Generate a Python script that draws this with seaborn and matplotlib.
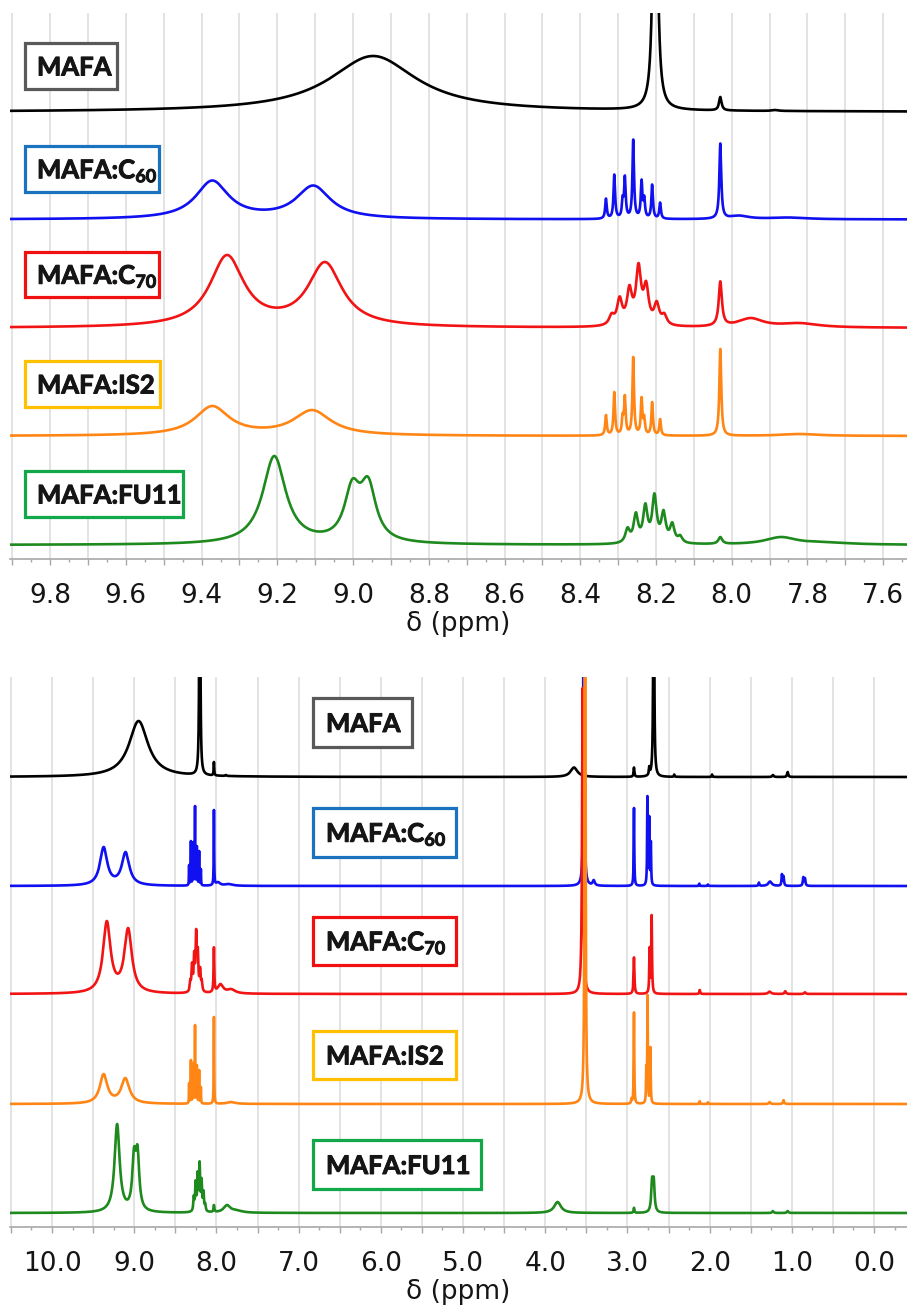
import numpy as np
import matplotlib
matplotlib.use("Agg")
import matplotlib.pyplot as plt
import matplotlib.patheffects as pe
from matplotlib.patches import Rectangle
from matplotlib.ticker import MultipleLocator, FuncFormatter
import seaborn as sns

# ---------------------------------------------------------------------------
# 1H NMR line lists for each sample:
#   shift  - chemical shift of each line (ppm)
#   height - height of the spectrum above its baseline at that line (a.u.)
#   hwhm   - half width at half height of the line (ppm)
# ---------------------------------------------------------------------------
mafa_shift = [8.947, 8.202, 8.030, 8.515, 7.885, 3.65, 2.92, 2.734, 2.68, 2.43, 1.97, 1.23, 1.05]
mafa_height = [56, 550, 15, 2, 2, 9.5, 9.5, 11, 400, 2.5, 2.5, 2, 5]
mafa_hwhm = [0.14, 0.0045, 0.004, 0.006, 0.01, 0.05, 0.006, 0.006, 0.005, 0.005, 0.005, 0.01, 0.008]

c60_shift = [9.372, 9.105, 8.332, 8.310, 8.288, 8.282, 8.260, 8.238, 8.231, 8.210, 8.189,
             8.030, 7.98, 7.85, 3.53, 3.41, 2.92, 2.757, 2.735, 2.715,
             2.125, 2.02, 1.40, 1.265, 1.12, 1.10, 0.86, 0.84]
c60_height = [39, 34, 21, 45, 24, 44, 80, 40, 24, 35, 17,
              76, 4, 2, 500, 6, 78, 90, 70, 45,
              2.4, 1.5, 3.5, 4.5, 12, 10, 9, 8]
c60_hwhm = [0.053, 0.055, 0.0025, 0.0025, 0.0025, 0.0025, 0.0025, 0.0025, 0.0025, 0.0025, 0.0025,
            0.003, 0.03, 0.06, 0.005, 0.015, 0.004, 0.004, 0.004, 0.004,
            0.004, 0.006, 0.006, 0.025, 0.006, 0.006, 0.007, 0.007]

c70_shift = [9.333, 9.074, 8.317, 8.296, 8.270, 8.246, 8.226, 8.198, 8.178,
             8.030, 7.95, 7.82, 3.545, 2.92, 2.73, 2.705, 2.12, 1.27, 1.08, 0.84]
c70_height = [73, 66, 15, 31.6, 43, 65, 47, 27, 15,
              46.7, 10, 5, 306, 36.6, 47, 79, 4, 2.4, 2.8, 1.7]
c70_hwhm = [0.055, 0.055, 0.008, 0.008, 0.008, 0.008, 0.008, 0.008, 0.008,
            0.005, 0.04, 0.06, 0.008, 0.006, 0.005, 0.005, 0.006, 0.02, 0.01, 0.01]

is2_shift = [9.372, 9.108, 8.332, 8.310, 8.288, 8.282, 8.260, 8.238, 8.231, 8.210, 8.189,
             8.030, 7.82, 3.515, 2.95, 2.92, 2.77, 2.755, 2.72, 2.12, 2.02, 1.27, 1.10]
is2_height = [30, 26, 21, 44, 23, 41, 79, 39, 21, 34, 17,
              87, 2, 900, 6, 91.6, 39, 109, 57, 2.8, 1.7, 2, 3.8]
is2_hwhm = [0.055, 0.06, 0.0025, 0.0025, 0.0025, 0.0025, 0.0025, 0.0025, 0.0025, 0.0025, 0.0025,
            0.003, 0.06, 0.005, 0.005, 0.004, 0.004, 0.004, 0.004, 0.004, 0.005, 0.01, 0.008]

fu11_shift = [9.208, 9.002, 8.960, 8.275, 8.253, 8.228, 8.204, 8.180, 8.157, 8.136,
              8.030, 7.87, 7.75, 3.85, 2.92, 2.70, 2.68, 1.23, 1.05]
fu11_height = [89, 66, 68, 17.7, 32.7, 41.7, 51.7, 35, 22.7, 10,
               8, 8, 3, 11, 5.2, 36, 36, 2, 2]
fu11_hwhm = [0.037, 0.025, 0.025, 0.007, 0.007, 0.007, 0.007, 0.007, 0.007, 0.007,
             0.006, 0.05, 0.08, 0.05, 0.006, 0.012, 0.012, 0.01, 0.01]

sample_labels = ["MAFA", r"MAFA:C$_{60}$", r"MAFA:C$_{70}$", "MAFA:IS2", "MAFA:FU11"]
line_lists = [
    (mafa_shift, mafa_height, mafa_hwhm),
    (c60_shift, c60_height, c60_hwhm),
    (c70_shift, c70_height, c70_hwhm),
    (is2_shift, is2_height, is2_hwhm),
    (fu11_shift, fu11_height, fu11_hwhm),
]

# ---- styling -------------------------------------------------------------
line_colors = ["#000000", "#1010F0", "#F21414", "#FF8514", "#1E8A1E"]
box_colors = ["#595959", "#1B72BE", "#F01010", "#FFC000", "#12A84A"]

W, H = 907, 1306
# stacking offsets (axis units) of each trace in the two panels
top_offsets = [447, 339.5, 231, 123, 14]
bottom_offsets = [450, 341, 233, 123, 14]
# label boxes (left, top, right, bottom) in figure pixels
top_boxes = [(25, 43, 117, 89), (25, 146, 159, 192), (25, 252, 159, 297),
             (25, 361, 160, 407), (25, 471, 183, 517)]
bottom_boxes = [(313, 698, 412, 747), (313, 808, 456, 857), (313, 917, 456, 965),
                (313, 1031, 456, 1079), (313, 1140, 481, 1189)]


def spectrum(shift, height, hwhm, grid):
    """Sum of Lorentzian lines whose overlap reproduces the listed heights."""
    s = np.asarray(shift, float)
    h = np.asarray(height, float)
    w = np.asarray(hwhm, float)
    overlap = 1.0 / (1.0 + ((s[:, None] - s[None, :]) / w[None, :]) ** 2)
    amp = np.clip(np.linalg.solve(overlap, h), 0, None)
    return (amp[None, :] / (1.0 + ((grid[:, None] - s[None, :]) / w[None, :]) ** 2)).sum(axis=1)


sns.set_theme(style="white")
plt.rcParams["font.family"] = ["DejaVu Sans"]
plt.rcParams["mathtext.fontset"] = "custom"
plt.rcParams["mathtext.rm"] = "Lato:bold"
plt.rcParams["mathtext.it"] = "Lato:bold"
plt.rcParams["mathtext.bf"] = "Lato:bold"

grid = np.linspace(-0.45, 10.55, 55001)
traces = [spectrum(*ll, grid) for ll in line_lists]

fig = plt.figure(figsize=(W / 100, H / 100), dpi=100)


def px_axes(l, t, r, b):
    return fig.add_axes([l / W, 1 - b / H, (r - l) / W, (b - t) / H])


ax_top = px_axes(10, 13, 907, 559)
ax_bot = px_axes(10, 677, 907, 1227)


def label_every_other(step):
    def fmt(v, pos):
        k = int(round(v / step))
        if k % 2:
            return ""
        v = 0.0 if abs(v) < 1e-9 else v
        return f"{v:.1f}"
    return FuncFormatter(fmt)


panels = [
    (ax_top, (9.906, 7.537), 546, 0.1, 0.05, top_offsets, (7.45, 10.0)),
    (ax_bot, (10.511, -0.401), 550, 0.5, 0.25, bottom_offsets, (-0.45, 10.55)),
]

for ax, xlim, ytop, major, minor, offsets, rng in panels:
    sel = (grid >= rng[0]) & (grid <= rng[1])
    for tr, off, col in zip(traces, offsets, line_colors):
        sns.lineplot(x=grid[sel], y=off + tr[sel], ax=ax, color=col, linewidth=1.9,
                     estimator=None, sort=False, legend=False)
    ax.set_xlim(*xlim)
    ax.set_ylim(0, ytop)
    ax.set_yticks([])
    ax.set_ylabel("")
    ax.xaxis.set_major_locator(MultipleLocator(major))
    ax.xaxis.set_minor_locator(MultipleLocator(minor))
    ax.xaxis.set_major_formatter(label_every_other(major))
    ax.grid(axis="x", which="major", color="#DEDEDE", linewidth=1.2)
    ax.set_axisbelow(True)
    for side in ("left", "right", "top"):
        ax.spines[side].set_visible(False)
    ax.spines["bottom"].set_color("#A8A8A8")
    ax.spines["bottom"].set_linewidth(1.2)
    ax.tick_params(axis="x", which="major", direction="out", length=4.5, width=1.0,
                   color="#A8A8A8", labelsize=19, pad=13, labelcolor="#151515", bottom=True)
    ax.tick_params(axis="x", which="minor", direction="out", length=2.5, width=1.0,
                   color="#A8A8A8", bottom=True)
    ax.set_xlabel("δ (ppm)", fontsize=19, color="#151515", labelpad=1)

# sample name boxes
heavy = [pe.withStroke(linewidth=0.7, foreground="#151515")]
for boxes, text_dx in ((top_boxes, 12), (bottom_boxes, 13)):
    for (l, t, r, b), ec, lab in zip(boxes, box_colors, sample_labels):
        fig.patches.append(Rectangle((l / W, 1 - b / H), (r - l) / W, (b - t) / H,
                                     transform=fig.transFigure, facecolor="white",
                                     edgecolor=ec, linewidth=2.3, zorder=3))
        fig.text((l + text_dx) / W, 1 - ((t + b) / 2 + 9.5) / H, lab,
                 family="Lato", fontweight="bold", fontsize=18.5, color="#151515",
                 ha="left", va="baseline", zorder=4, path_effects=heavy)

fig.savefig("out.png", dpi=100)
